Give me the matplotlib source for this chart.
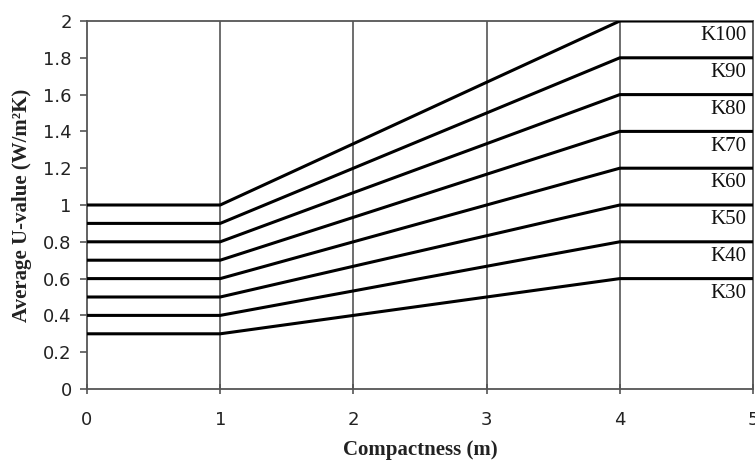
import matplotlib
matplotlib.use("Agg")
import matplotlib.pyplot as plt

compactness = [0, 1, 2, 3, 4, 5]
series_names = ["K100", "K90", "K80", "K70", "K60", "K50", "K40", "K30"]
k100 = [1.0, 1.0, 1.333, 1.667, 2.0, 2.0]
k90 = [0.9, 0.9, 1.2, 1.5, 1.8, 1.8]
k80 = [0.8, 0.8, 1.067, 1.333, 1.6, 1.6]
k70 = [0.7, 0.7, 0.933, 1.167, 1.4, 1.4]
k60 = [0.6, 0.6, 0.8, 1.0, 1.2, 1.2]
k50 = [0.5, 0.5, 0.667, 0.833, 1.0, 1.0]
k40 = [0.4, 0.4, 0.533, 0.667, 0.8, 0.8]
k30 = [0.3, 0.3, 0.4, 0.5, 0.6, 0.6]
series_values = [k100, k90, k80, k70, k60, k50, k40, k30]
x_ticks = [0, 1, 2, 3, 4, 5]
y_ticks = [0, 0.2, 0.4, 0.6, 0.8, 1, 1.2, 1.4, 1.6, 1.8, 2]
y_tick_labels = ["0", "0.2", "0.4", "0.6", "0.8", "1", "1.2", "1.4", "1.6", "1.8", "2"]

fig = plt.figure(figsize=(7.55, 4.63), dpi=100)
ax = fig.add_axes([87/755, 74/463, 666/755, 368/463])

for x in [1, 2, 3, 4]:
    ax.axvline(x, color="#555555", lw=1.2, zorder=1)

for name, vals in zip(series_names, series_values):
    ax.plot(compactness, vals, color="black", lw=2.2, zorder=3, solid_capstyle="butt")
    ax.text(4.95, vals[-1] - 0.08, name, ha="right", va="center",
            family="Liberation Serif", fontsize=15, color="#111111", zorder=4)

ax.set_xlim(0, 5)
ax.set_ylim(0, 2)
ax.set_xticks(x_ticks)
ax.set_xticklabels([str(t) for t in x_ticks])
ax.set_yticks(y_ticks)
ax.set_yticklabels(y_tick_labels)

for s in ax.spines.values():
    s.set_color("#555555")
    s.set_linewidth(1.3)

ax.tick_params(axis="x", direction="inout", length=7, width=1.2, color="#555555",
               pad=12, labelsize=13)
ax.tick_params(axis="y", direction="out", length=5, width=1.2, color="#555555",
               pad=6, labelsize=13)
for lab in ax.get_xticklabels() + ax.get_yticklabels():
    lab.set_family("DejaVu Sans")
    lab.set_color("#222222")

ax.set_xlabel("Compactness (m)", family="Liberation Serif", fontweight="bold",
              fontsize=15, color="#222222", labelpad=8)
ax.set_ylabel("Average U-value (W/m²K)", family="Liberation Serif", fontweight="bold",
              fontsize=15, color="#222222", labelpad=8)

fig.savefig("out.png", dpi=100)
